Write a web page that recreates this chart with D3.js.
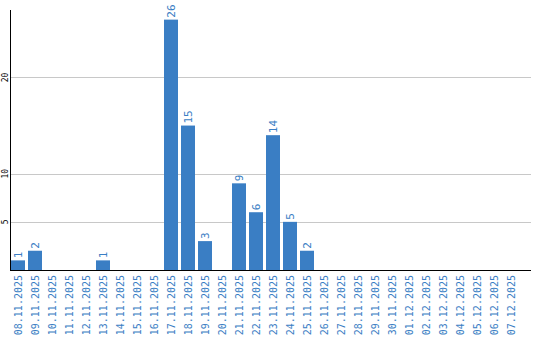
<!DOCTYPE html>
<html>
<head>
<meta charset="utf-8">
<script src="https://cdn.jsdelivr.net/npm/d3@7"></script>
<style>
  body { margin: 0; background: #fff; }
</style>
</head>
<body>
<div id="chart"></div>
<script>
var w = 540, h = 340;

// dates on the x axis
var dates = ["08.11.2025","09.11.2025","10.11.2025","11.11.2025","12.11.2025","13.11.2025",
  "14.11.2025","15.11.2025","16.11.2025","17.11.2025","18.11.2025","19.11.2025","20.11.2025",
  "21.11.2025","22.11.2025","23.11.2025","24.11.2025","25.11.2025","26.11.2025","27.11.2025",
  "28.11.2025","29.11.2025","30.11.2025","01.12.2025","02.12.2025","03.12.2025","04.12.2025",
  "05.12.2025","06.12.2025","07.12.2025"];
// count per day
var counts = [1,2,0,0,0,1,0,0,0,26,15,3,0,9,6,14,5,2,0,0,0,0,0,0,0,0,0,0,0,0];
// gridlines / tick labels
var yTicks = [5, 10, 20];

var blue = "#3a7ec4";
var mono = "DejaVu Sans Mono, monospace";

var svg = d3.select("#chart").append("svg")
  .attr("width", w)
  .attr("height", h);

var xScale = d3.scaleBand().domain(dates).range([11, 518]).paddingInner(3 / 17).paddingOuter(0);
var yScale = d3.scaleLinear().domain([0, 27]).range([270, 10]);

// gridlines
svg.append("g")
  .selectAll("line")
  .data(yTicks)
  .enter().append("line")
  .attr("x1", 11)
  .attr("x2", 531)
  .attr("y1", function(d) { return Math.round(yScale(d)) + 0.5; })
  .attr("y2", function(d) { return Math.round(yScale(d)) + 0.5; })
  .attr("stroke", "#c8c8c8")
  .attr("stroke-width", 1);

// y tick labels, rotated
svg.append("g")
  .selectAll("text")
  .data(yTicks)
  .enter().append("text")
  .attr("transform", function(d) { return "translate(8," + yScale(d) + ") rotate(-90)"; })
  .attr("text-anchor", "middle")
  .attr("font-family", mono)
  .attr("font-size", 8)
  .attr("fill", "#000")
  .text(function(d) { return d; });

// bars
svg.append("g")
  .selectAll("rect")
  .data(counts)
  .enter().append("rect")
  .attr("x", function(d, i) { return xScale(dates[i]); })
  .attr("y", function(d) { return yScale(d); })
  .attr("width", xScale.bandwidth())
  .attr("height", function(d) { return yScale(0) - yScale(d); })
  .attr("fill", blue);

// value labels above bars (only non-zero days)
var labelled = counts.map(function(v, i) { return {v: v, d: dates[i]}; })
  .filter(function(o) { return o.v > 0; });

svg.append("g")
  .selectAll("text")
  .data(labelled)
  .enter().append("text")
  .attr("transform", function(o) {
    return "translate(" + (xScale(o.d) + xScale.bandwidth() / 2 + 4) + "," + (yScale(o.v) - 2) + ") rotate(-90)";
  })
  .attr("font-family", mono)
  .attr("font-size", 11)
  .attr("fill", blue)
  .text(function(o) { return o.v; });

// x labels, rotated
svg.append("g")
  .selectAll("text")
  .data(dates)
  .enter().append("text")
  .attr("transform", function(d) {
    return "translate(" + (xScale(d) + xScale.bandwidth() / 2 + 4) + ",275) rotate(-90)";
  })
  .attr("text-anchor", "end")
  .attr("font-family", mono)
  .attr("font-size", 10)
  .attr("fill", blue)
  .text(function(d) { return d; });

// axis lines
svg.append("line")
  .attr("x1", 10.5).attr("x2", 10.5)
  .attr("y1", 10).attr("y2", 271)
  .attr("stroke", "#000");
svg.append("line")
  .attr("x1", 10).attr("x2", 531)
  .attr("y1", 270.5).attr("y2", 270.5)
  .attr("stroke", "#000");
</script>
</body>
</html>
